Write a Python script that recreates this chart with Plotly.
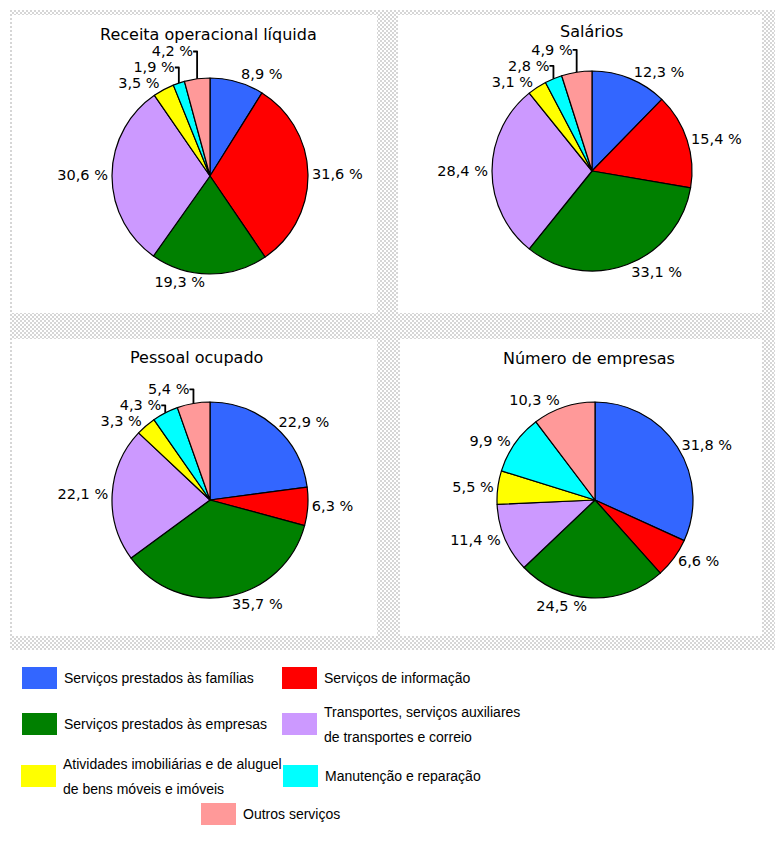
import base64
import plotly.graph_objects as go

W, H = 775, 844

categories = [
    "Serviços prestados às famílias",
    "Serviços de informação",
    "Serviços prestados às empresas",
    "Transportes, serviços auxiliares de transportes e correio",
    "Atividades imobiliárias e de aluguel de bens móveis e imóveis",
    "Manutenção e reparação",
    "Outros serviços",
]
legend_lines = [
    ["Serviços prestados às famílias"],
    ["Serviços de informação"],
    ["Serviços prestados às empresas"],
    ["Transportes, serviços auxiliares", "de transportes e correio"],
    ["Atividades imobiliárias e de aluguel", "de bens móveis e imóveis"],
    ["Manutenção e reparação"],
    ["Outros serviços"],
]
colors = ["#3366ff", "#ff0000", "#008000", "#cc99ff", "#ffff00", "#00ffff", "#ff9999"]

panel_titles = ["Receita operacional líquida", "Salários", "Pessoal ocupado", "Número de empresas"]
receita = [8.9, 31.6, 19.3, 30.6, 3.5, 1.9, 4.2]
salarios = [12.3, 15.4, 33.1, 28.4, 3.1, 2.8, 4.9]
pessoal = [22.9, 6.3, 35.7, 22.1, 3.3, 4.3, 5.4]
empresas = [31.8, 6.6, 24.5, 11.4, 5.5, 9.9, 10.3]
series = [receita, salarios, pessoal, empresas]

LEG_FONT = "Liberation Sans"
LBL_FONT = "DejaVu Sans"

# layout geometry (pixels)
pie_geo = [(210, 176, 98), (592, 171, 100), (210, 500, 98), (595, 500, 98)]
title_pos = [(208, 34), (591, 31), (196, 357), (589, 358)]
panels = [(12, 15, 377, 313), (398, 15, 762, 313), (12, 339, 377, 636), (400, 339, 762, 636)]


def px(x):
    return x / W


def py(y):
    return 1 - y / H


fig = go.Figure()

for vals, (cx, cy, r) in zip(series, pie_geo):
    fig.add_trace(go.Pie(
        labels=categories,
        values=vals,
        text=[f"{v:.1f} %".replace(".", ",") for v in vals],
        textinfo="text",
        textposition="outside",
        textfont=dict(family=LBL_FONT, size=14.5, color="#000000"),
        marker=dict(colors=colors, line=dict(color="#000000", width=1.2)),
        sort=False,
        direction="clockwise",
        rotation=0,
        showlegend=False,
        hoverinfo="label+value",
        domain=dict(x=[px(cx - r), px(cx + r)], y=[py(cy + r), py(cy - r)]),
    ))

# dotted background texture (decorative)
bx0, by0, bx1, by1 = 10, 10, 775, 650
bw_, bh_ = bx1 - bx0, by1 - by0
svg = (
    f'<svg xmlns="http://www.w3.org/2000/svg" width="{bw_}" height="{bh_}" shape-rendering="crispEdges">'
    '<defs><pattern id="p" width="4" height="4" patternUnits="userSpaceOnUse">'
    '<rect width="4" height="4" fill="#ffffff"/>'
    '<rect x="0" y="0" width="2" height="2" fill="#d6d6d6"/>'
    '<rect x="2" y="2" width="2" height="2" fill="#d6d6d6"/>'
    '</pattern></defs>'
    f'<rect width="{bw_}" height="{bh_}" fill="url(#p)"/></svg>'
)
src = "data:image/svg+xml;base64," + base64.b64encode(svg.encode()).decode()
images = [dict(source=src, xref="paper", yref="paper", x=px(bx0), y=py(by0), sizex=px(bw_), sizey=bh_ / H,
               xanchor="left", yanchor="top", sizing="stretch", layer="below")]

shapes = []
for (x0, y0, x1, y1) in panels:
    shapes.append(dict(type="rect", xref="paper", yref="paper", x0=px(x0), x1=px(x1), y0=py(y1), y1=py(y0),
                       fillcolor="#ffffff", line=dict(width=0), layer="below"))

annotations = []
for t, (tx, ty) in zip(panel_titles, title_pos):
    annotations.append(dict(text=t, x=px(tx), y=py(ty), xref="paper", yref="paper",
                            showarrow=False, xanchor="center", yanchor="middle",
                            font=dict(family=LBL_FONT, size=16, color="#000000")))

# custom legend
legend_boxes = [(22, 667), (282, 667), (22, 713), (282, 713), (21, 765), (283, 765), (201, 803)]
for lines, col, (lx, ly) in zip(legend_lines, colors, legend_boxes):
    bw, bh = 35, 22
    shapes.append(dict(type="rect", xref="paper", yref="paper", x0=px(lx), x1=px(lx + bw),
                       y0=py(ly + bh), y1=py(ly), fillcolor=col, line=dict(width=0)))
    n = len(lines)
    for i, ln in enumerate(lines):
        yc = ly + bh / 2 + (i - (n - 1) / 2) * 25
        annotations.append(dict(text=ln, x=px(lx + bw + 5), y=py(yc), xref="paper", yref="paper",
                                showarrow=False, xanchor="left", yanchor="middle", align="left",
                                font=dict(family=LEG_FONT, size=14, color="#000000")))

fig.update_layout(
    width=W, height=H,
    margin=dict(l=0, r=0, t=0, b=0),
    paper_bgcolor="#ffffff",
    plot_bgcolor="#ffffff",
    shapes=shapes,
    images=images,
    annotations=annotations,
)

fig.write_html("out.html")
